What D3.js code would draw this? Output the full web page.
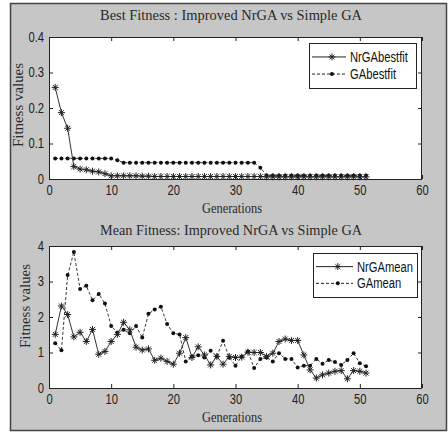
<!DOCTYPE html>
<html>
<head>
<meta charset="utf-8">
<script src="https://cdn.jsdelivr.net/npm/d3@7"></script>
<style>
  body { margin: 0; background: #fff; }
  .tick text { font-family: "Liberation Sans", Arial, sans-serif; font-size: 14px; fill: #222; }
  .serif { font-family: "Liberation Serif", "Times New Roman", serif; fill: #2a2a2a; }
  .leg { font-family: "Liberation Sans", Arial, sans-serif; font-size: 14px; fill: #111; }
</style>
</head>
<body>
<div id="chart"></div>
<script>
// generations 1..51
const generations = d3.range(1, 52);

const xTicks = [0, 10, 20, 30, 40, 50, 60];
const bestTicks = [0, 0.1, 0.2, 0.3, 0.4];
const meanTicks = [0, 1, 2, 3, 4];

const nrgaBest = [0.258, 0.187, 0.143, 0.035, 0.028, 0.026, 0.022, 0.020, 0.015, 0.009,
  0.009, 0.009, 0.009, 0.009, 0.008, 0.008, 0.007, 0.007, 0.007, 0.007,
  0.007, 0.007, 0.007, 0.007, 0.007, 0.007, 0.007, 0.007, 0.007, 0.007,
  0.007, 0.007, 0.007, 0.007, 0.006, 0.006, 0.006, 0.006, 0.006, 0.006,
  0.006, 0.006, 0.006, 0.006, 0.006, 0.006, 0.006, 0.006, 0.006, 0.006, 0.006];

const gaBest = [0.058, 0.058, 0.058, 0.058, 0.058, 0.058, 0.058, 0.058, 0.058, 0.058,
  0.053, 0.046, 0.046, 0.046, 0.046, 0.046, 0.046, 0.046, 0.046, 0.046,
  0.046, 0.046, 0.046, 0.046, 0.046, 0.046, 0.046, 0.046, 0.046, 0.046,
  0.046, 0.046, 0.046, 0.032, 0.010, 0.010, 0.010, 0.010, 0.010, 0.010,
  0.010, 0.010, 0.010, 0.010, 0.010, 0.010, 0.010, 0.010, 0.010, 0.010, 0.010];

const nrgaMean = [1.51, 2.31, 2.07, 1.44, 1.57, 1.31, 1.65, 0.95, 1.03, 1.31,
  1.51, 1.85, 1.64, 1.15, 1.07, 1.10, 0.78, 0.84, 0.75, 0.67,
  0.98, 1.42, 0.86, 1.16, 0.93, 0.65, 0.89, 0.67, 0.89, 0.86,
  0.87, 1.01, 1.00, 1.00, 0.89, 0.98, 1.31, 1.38, 1.34, 1.34,
  0.93, 0.51, 0.28, 0.37, 0.42, 0.47, 0.49, 0.26, 0.49, 0.47, 0.42];

const gaMean = [1.26, 1.06, 3.18, 3.83, 2.79, 2.88, 2.47, 2.65, 2.38, 1.75,
  1.56, 1.64, 1.54, 1.75, 1.42, 2.09, 2.21, 2.29, 1.80, 1.54,
  1.51, 0.75, 0.89, 0.92, 0.86, 1.05, 0.89, 1.33, 0.86, 0.63,
  0.89, 1.03, 0.56, 0.82, 0.86, 0.75, 0.98, 0.82, 0.82, 0.58,
  0.63, 0.63, 0.82, 0.68, 0.79, 0.73, 0.65, 0.79, 0.98, 0.70, 0.61];

const W = 448, H = 432;

const svg = d3.select("#chart").append("svg")
  .attr("width", W)
  .attr("height", H);

// squeeze a text node horizontally, like the narrow font in the original
const narrow = (sel, k) => {
  sel.each(function () {
    const len = this.getComputedTextLength();
    d3.select(this).attr("textLength", len * k).attr("lengthAdjust", "spacingAndGlyphs");
  });
};

// gray figure background
svg.append("rect")
  .attr("x", 10.5).attr("y", 3.5)
  .attr("width", 436).attr("height", 427)
  .attr("fill", "#c6c6c6")
  .attr("stroke", "#444")
  .attr("stroke-width", 1.5);

const star = (g, x, y, r) => {
  // asterisk marker: + and x together
  const d = `M${x},${y - r}L${x},${y + r}M${x - r},${y}L${x + r},${y}` +
    `M${x - r * 0.7},${y - r * 0.7}L${x + r * 0.7},${y + r * 0.7}` +
    `M${x - r * 0.7},${y + r * 0.7}L${x + r * 0.7},${y - r * 0.7}`;
  g.append("path").attr("d", d).attr("stroke", "#222").attr("stroke-width", 1).attr("fill", "none");
};

const drawPanel = (opt) => {
  const x = d3.scaleLinear().domain([0, 60]).range([49, 422]);
  const y = d3.scaleLinear().domain(opt.yDomain).range([opt.bottom, opt.top]);
  const g = svg.append("g");

  g.append("rect")
    .attr("x", 49).attr("y", opt.top)
    .attr("width", 373).attr("height", opt.bottom - opt.top)
    .attr("fill", "#fff");

  // bottom axis with labels
  g.append("g")
    .attr("transform", `translate(0,${opt.bottom})`)
    .call(d3.axisBottom(x).tickValues(xTicks).tickSizeInner(-4).tickSizeOuter(0).tickPadding(6).tickFormat(d3.format("d")))
    .call(a => a.select(".domain").remove());
  // top ticks
  g.append("g")
    .attr("transform", `translate(0,${opt.top})`)
    .call(d3.axisTop(x).tickValues(xTicks).tickSizeInner(-4).tickSizeOuter(0).tickFormat(""))
    .call(a => a.select(".domain").remove());
  // left axis with labels
  g.append("g")
    .attr("transform", "translate(49,0)")
    .call(d3.axisLeft(y).tickValues(opt.yTicks).tickSizeInner(-4).tickSizeOuter(0).tickPadding(5).tickFormat(opt.fmt))
    .call(a => a.select(".domain").remove());
  // right ticks
  g.append("g")
    .attr("transform", "translate(422,0)")
    .call(d3.axisRight(y).tickValues(opt.yTicks).tickSizeInner(-4).tickSizeOuter(0).tickFormat(""))
    .call(a => a.select(".domain").remove());

  g.selectAll(".tick line").attr("stroke", "#222");
  g.selectAll(".tick text").call(narrow, 0.8);

  // box
  g.append("rect")
    .attr("x", 49.5).attr("y", opt.top + 0.5)
    .attr("width", 372).attr("height", opt.bottom - opt.top)
    .attr("fill", "none")
    .attr("stroke", "#222");

  const line = d3.line().x((d, i) => x(generations[i])).y(d => y(d));

  // GA series: dashed with dots
  g.append("path")
    .datum(opt.ga)
    .attr("d", line)
    .attr("fill", "none")
    .attr("stroke", "#222")
    .attr("stroke-width", 0.9)
    .attr("stroke-dasharray", "3,2");
  g.selectAll(".dot")
    .data(opt.ga)
    .join("circle")
    .attr("cx", (d, i) => x(generations[i]))
    .attr("cy", d => y(d))
    .attr("r", 2)
    .attr("fill", "#111");

  // NrGA series: solid with stars
  g.append("path")
    .datum(opt.nrga)
    .attr("d", line)
    .attr("fill", "none")
    .attr("stroke", "#333")
    .attr("stroke-width", 1);
  opt.nrga.forEach((d, i) => star(g, x(generations[i]), y(d), 3.5));

  // title
  g.append("text")
    .attr("class", "serif")
    .attr("x", 231).attr("y", opt.titleY)
    .attr("text-anchor", "middle")
    .attr("font-size", 15)
    .attr("textLength", 262)
    .attr("lengthAdjust", "spacingAndGlyphs")
    .text(opt.title);

  // x label
  g.append("text")
    .attr("class", "serif")
    .attr("x", 232).attr("y", opt.bottom + 34)
    .attr("text-anchor", "middle")
    .attr("font-size", 14)
    .attr("textLength", 60)
    .attr("lengthAdjust", "spacingAndGlyphs")
    .text("Generations");

  // y label
  g.append("text")
    .attr("class", "serif")
    .attr("transform", `translate(${opt.yLabelX},${opt.yLabelY}) rotate(-90)`)
    .attr("text-anchor", "middle")
    .attr("font-size", 14)
    .attr("textLength", 84)
    .attr("lengthAdjust", "spacingAndGlyphs")
    .text("Fitness values");

  // legend
  const L = opt.legend;
  g.append("rect")
    .attr("x", L.x + 0.5).attr("y", L.y + 0.5)
    .attr("width", L.w).attr("height", L.h)
    .attr("fill", "#fff")
    .attr("stroke", "#222");
  const r1 = L.y + L.h * 0.31, r2 = L.y + L.h * 0.69;
  g.append("line")
    .attr("x1", L.x + 3).attr("x2", L.x + L.lineW)
    .attr("y1", r1).attr("y2", r1)
    .attr("stroke", "#222");
  star(g, L.x + L.lineW * 0.62, r1, 3.5);
  g.append("line")
    .attr("x1", L.x + 3).attr("x2", L.x + L.lineW)
    .attr("y1", r2).attr("y2", r2)
    .attr("stroke", "#222")
    .attr("stroke-dasharray", "3,2");
  g.append("circle")
    .attr("cx", L.x + L.lineW * 0.62).attr("cy", r2).attr("r", 2).attr("fill", "#111");
  g.append("text").attr("class", "leg")
    .attr("x", L.x + L.lineW + 4).attr("y", r1).attr("dy", "0.35em")
    .text(opt.names[0]).call(narrow, 0.8);
  g.append("text").attr("class", "leg")
    .attr("x", L.x + L.lineW + 4).attr("y", r2).attr("dy", "0.35em")
    .text(opt.names[1]).call(narrow, 0.8);
};

drawPanel({
  top: 37, bottom: 179,
  yDomain: [0, 0.4], yTicks: bestTicks,
  fmt: d => d === 0 ? "0" : d3.format(".1f")(d),
  nrga: nrgaBest, ga: gaBest,
  title: "Best Fitness : Improved NrGA vs Simple GA",
  titleY: 20,
  yLabelX: 23, yLabelY: 105,
  legend: { x: 309, y: 43, w: 107, h: 45, lineW: 37 },
  names: ["NrGAbestfit", "GAbestfit"]
});

drawPanel({
  top: 246, bottom: 388,
  yDomain: [0, 4], yTicks: meanTicks,
  fmt: d3.format("d"),
  nrga: nrgaMean, ga: gaMean,
  title: "Mean Fitness: Improved NrGA vs Simple GA",
  titleY: 235,
  yLabelX: 30, yLabelY: 306,
  legend: { x: 313, y: 253, w: 104, h: 44, lineW: 40 },
  names: ["NrGAmean", "GAmean"]
});
</script>
</body>
</html>
